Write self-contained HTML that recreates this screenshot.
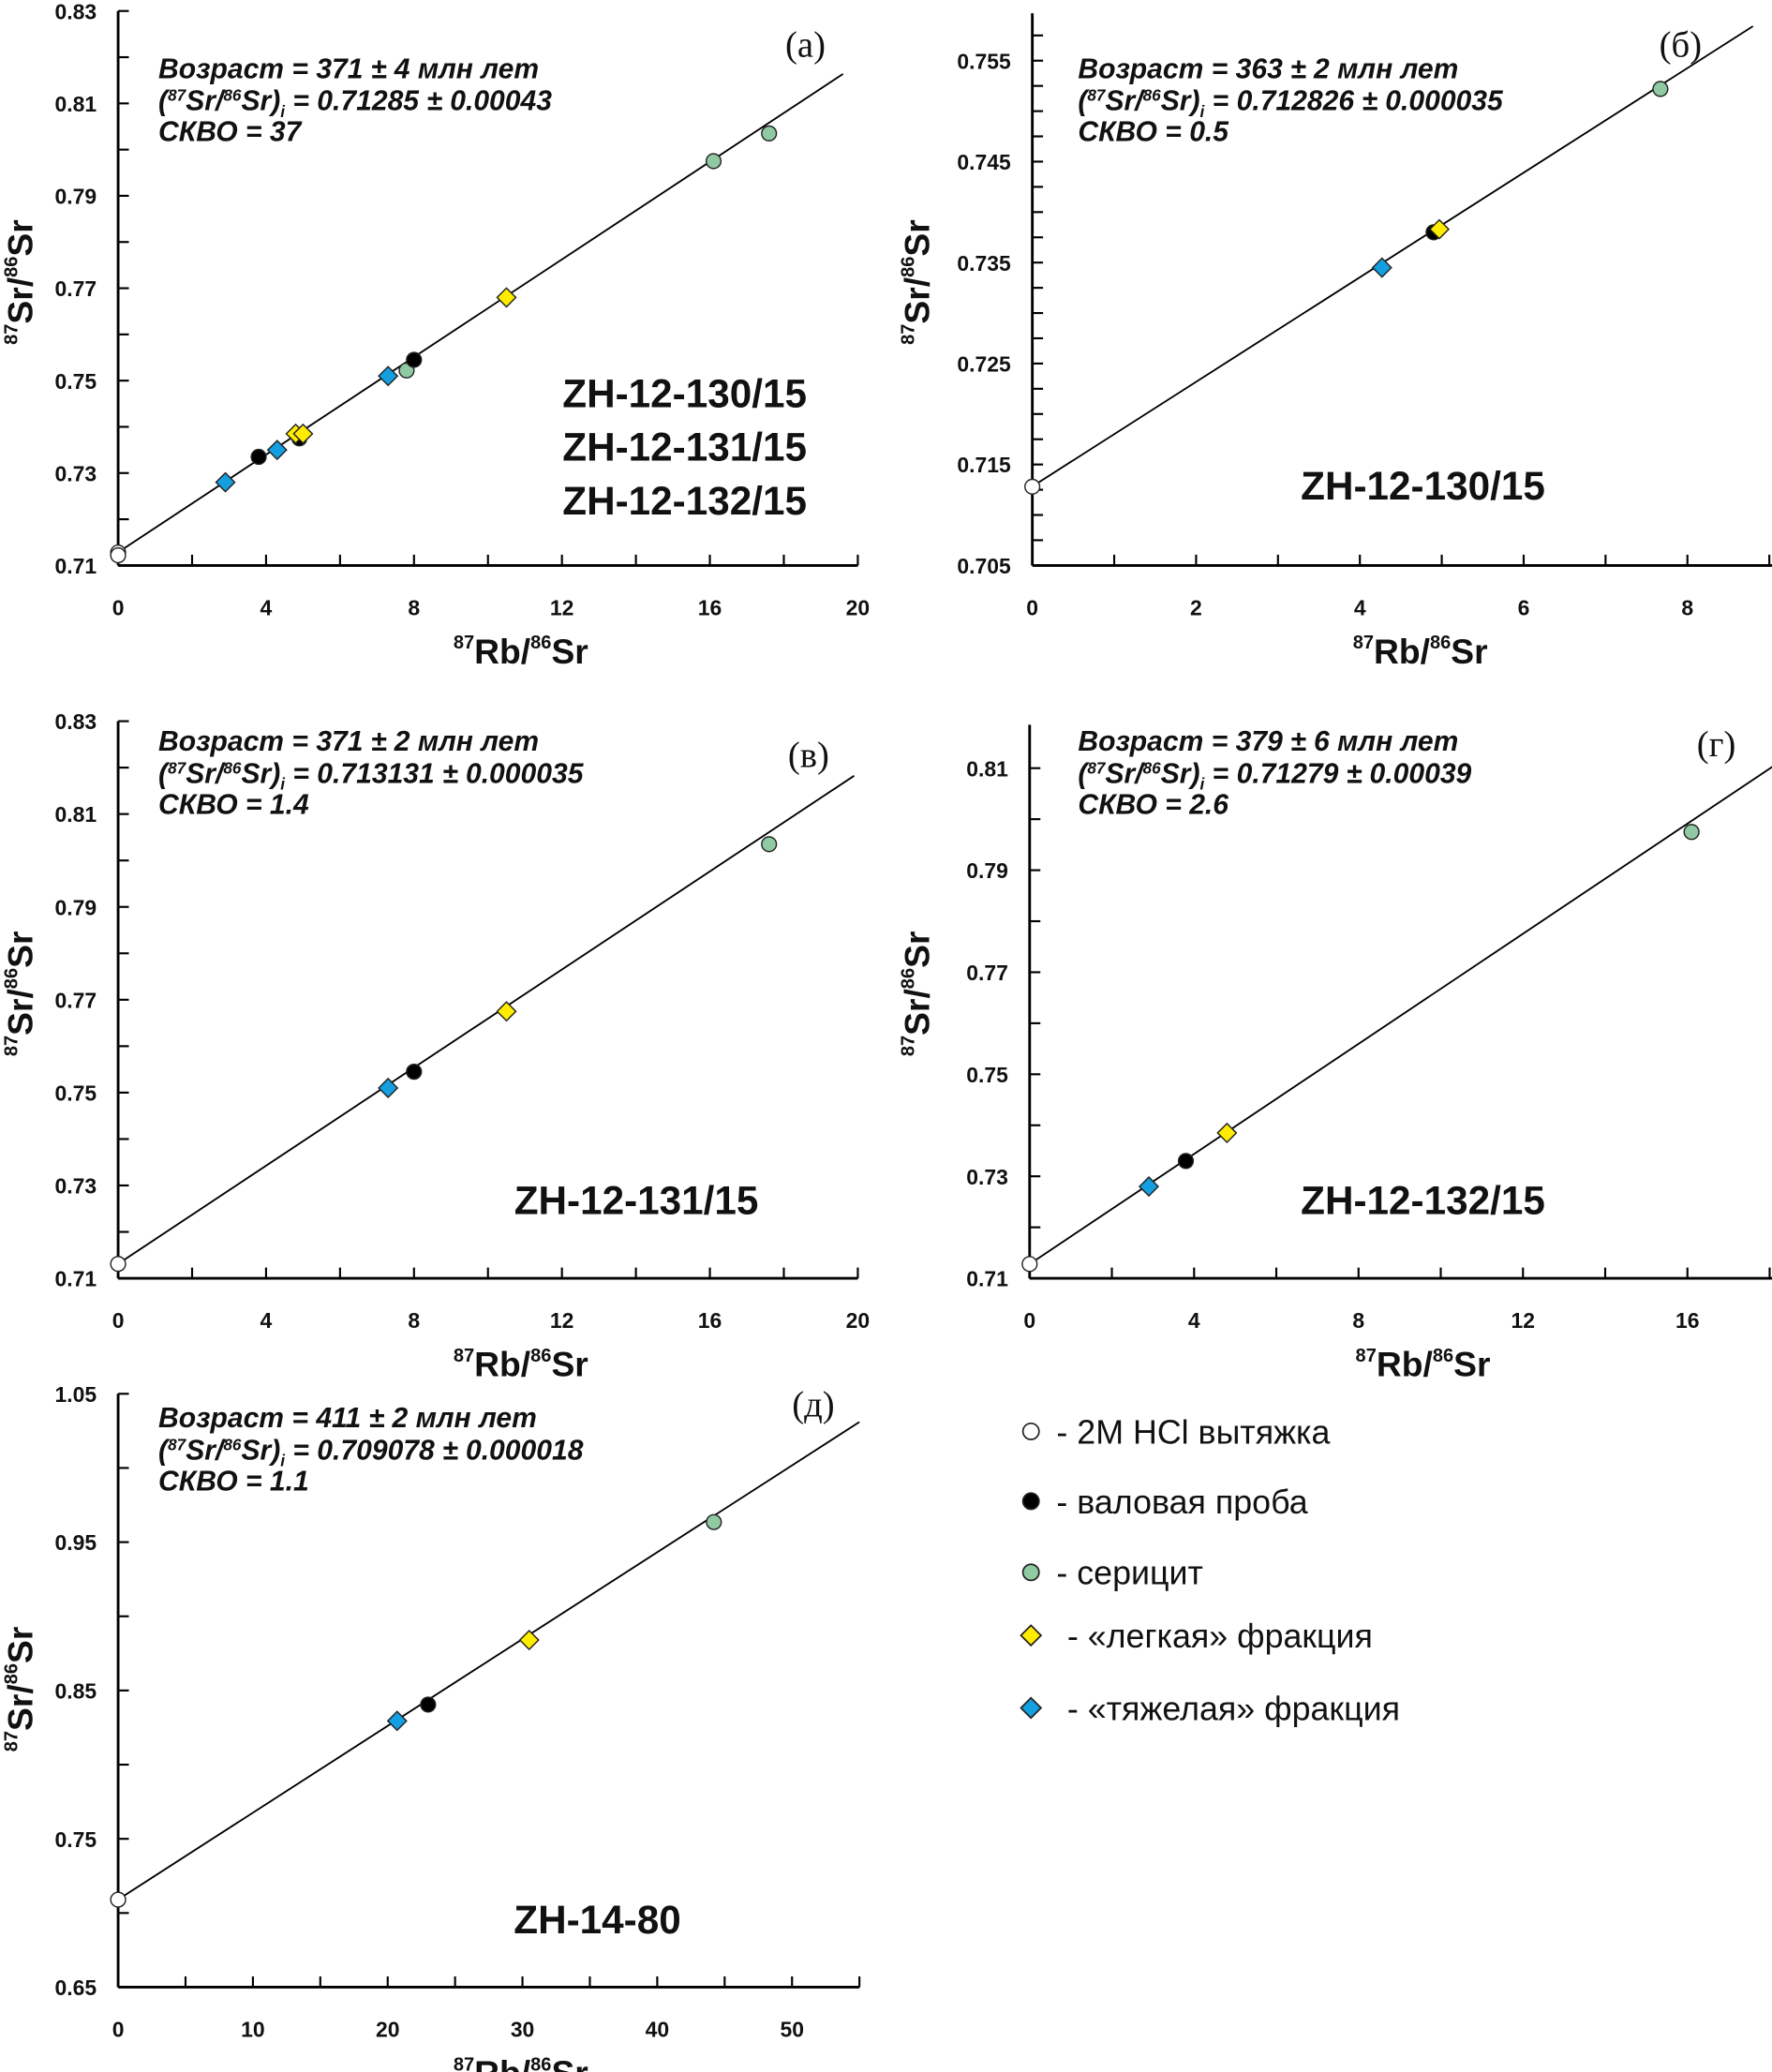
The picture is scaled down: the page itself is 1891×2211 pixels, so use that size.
<!DOCTYPE html>
<html><head><meta charset="utf-8"><style>
html,body{margin:0;padding:0;background:#fff;}
svg{display:block;}
.tk{font-family:"Liberation Sans",Arial,sans-serif;font-weight:bold;font-size:16px;fill:#111;}
.ttl{font-family:"Liberation Sans",Arial,sans-serif;font-weight:bold;font-size:26px;fill:#111;}
.info{font-family:"Liberation Sans","DejaVu Sans",sans-serif;font-weight:bold;font-style:italic;font-size:21px;fill:#111;}
.lab{font-family:"Liberation Serif",serif;font-size:27px;fill:#111;}
.smp{font-family:"Liberation Sans",Arial,sans-serif;font-weight:bold;font-size:29.5px;fill:#111;}
.leg{font-family:"Liberation Sans","DejaVu Sans",sans-serif;font-size:25px;fill:#111;}
</style></head><body>
<svg id="fig" width="1891" height="2211" viewBox="0 0 1320 1543" xmlns="http://www.w3.org/2000/svg"></svg>
<script>
// ---- data (Rb/Sr, Sr/Sr pairs per panel) ----
const aWhiteX=[0,0], aWhiteY=[0.7128,0.7122];
const aBlackX=[3.8,4.9,8.0], aBlackY=[0.7335,0.7375,0.7545];
const aGreenX=[7.8,16.1,17.6], aGreenY=[0.7522,0.7975,0.8035];
const aYellowX=[4.8,5.0,10.5], aYellowY=[0.7385,0.7385,0.768];
const aBlueX=[2.9,4.3,7.3], aBlueY=[0.728,0.735,0.751];
const aFit=[0.71285,0.005282], aFitX=[0,19.6];

const bWhiteX=[0], bWhiteY=[0.7128];
const bBlackX=[4.9], bBlackY=[0.738];
const bGreenX=[7.67], bGreenY=[0.7522];
const bYellowX=[4.97], bYellowY=[0.7383];
const bBlueX=[4.27], bBlueY=[0.7345];
const bFit=[0.712826,0.005180], bFitX=[0,8.8];

const vWhiteX=[0], vWhiteY=[0.7131];
const vBlackX=[8.0], vBlackY=[0.7545];
const vGreenX=[17.6], vGreenY=[0.8035];
const vYellowX=[10.5], vYellowY=[0.7675];
const vBlueX=[7.3], vBlueY=[0.751];
const vFit=[0.713131,0.005282], vFitX=[0,19.9];

const gWhiteX=[0], gWhiteY=[0.7128];
const gBlackX=[3.8], gBlackY=[0.733];
const gGreenX=[16.1], gGreenY=[0.7975];
const gYellowX=[4.8], gYellowY=[0.7385];
const gBlueX=[2.9], gBlueY=[0.728];
const gFit=[0.71279,0.005396], gFitX=[0,18.1];

const dWhiteX=[0], dWhiteY=[0.709];
const dBlackX=[23], dBlackY=[0.8405];
const dGreenX=[44.2], dGreenY=[0.9635];
const dYellowX=[30.5], dYellowY=[0.884];
const dBlueX=[20.7], dBlueY=[0.8295];
const dFit=[0.709078,0.005853], dFitX=[0,55];

const aYTicks=["0.71","0.73","0.75","0.77","0.79","0.81","0.83"];
const bYTicks=["0.705","0.715","0.725","0.735","0.745","0.755"];
const gYTicks=["0.71","0.73","0.75","0.77","0.79","0.81"];
const dYTicks=["0.65","0.75","0.85","0.95","1.05"];
const aXTicks=["0","4","8","12","16","20"];
const bXTicks=["0","2","4","6","8"];
const gXTicks=["0","4","8","12","16"];
const dXTicks=["0","10","20","30","40","50"];

const NS="http://www.w3.org/2000/svg";
const svg=document.getElementById('fig');
function mk(tag,attrs,parent){const e=document.createElementNS(NS,tag);for(const k in attrs)e.setAttribute(k,attrs[k]);(parent||svg).appendChild(e);return e;}
const COL={white:"#ffffff",black:"#000000",green:"#8fcaa2",yellow:"#ffec00",blue:"#149fe0"};

function panel(id,cfg){
  const g=mk('g',{});
  
  
  const sx=v=>cfg.px0+(v-cfg.x0)/(cfg.x1-cfg.x0)*(cfg.px1-cfg.px0);
  const sy=v=>cfg.py0+(v-cfg.y0)/(cfg.y1-cfg.y0)*(cfg.py1-cfg.py0);
  const ya=mk('line',{x1:cfg.px0,y1:sy(cfg.y0),x2:cfg.px0,y2:sy(cfg.yTop),stroke:'#000','stroke-width':2},g);
  
  
  const xa=mk('line',{x1:cfg.px0,y1:sy(cfg.y0),x2:sx(cfg.xEnd),y2:sy(cfg.y0),stroke:'#000','stroke-width':2},g);
  
  
  for(let v=cfg.y0;v<=cfg.yTop+1e-9;v+=cfg.yMinor){mk('line',{x1:cfg.px0,y1:sy(v),x2:cfg.px0+8,y2:sy(v),stroke:'#000','stroke-width':1.5},g);}
  for(let v=cfg.x0;v<=cfg.xEnd+1e-9;v+=cfg.xMinor){mk('line',{x1:sx(v),y1:sy(cfg.y0),x2:sx(v),y2:sy(cfg.y0)-8,stroke:'#000','stroke-width':1.5},g);}
  cfg.yTicks.forEach(s=>{const t=mk('text',{x:cfg.px0-16,y:sy(parseFloat(s))+6,'text-anchor':'end',class:'tk'},g);t.textContent=s;
    
    });
  cfg.xTicks.forEach(s=>{const t=mk('text',{x:sx(parseFloat(s)),y:sy(cfg.y0)+37,'text-anchor':'middle',class:'tk'},g);t.textContent=s;
    
    });
  const xt=mk('text',{x:cfg.xtX,y:sy(cfg.y0)+73,'text-anchor':'middle',class:'ttl'},g);
  xt.innerHTML='<tspan font-size="14" dy="-11">87</tspan><tspan dy="11">Rb/</tspan><tspan font-size="14" dy="-11">86</tspan><tspan dy="11">Sr</tspan>';
  
  
  const yt=mk('text',{x:0,y:0,'text-anchor':'middle',class:'ttl',transform:`translate(${cfg.ytX},${cfg.ytY}) rotate(-90)`},g);
  yt.innerHTML='<tspan font-size="14" dy="-11">87</tspan><tspan dy="11">Sr/</tspan><tspan font-size="14" dy="-11">86</tspan><tspan dy="11">Sr</tspan>';
  
  
  const fl=mk('line',{x1:sx(cfg.fitX[0]),y1:sy(cfg.fit[0]+cfg.fit[1]*cfg.fitX[0]),x2:sx(cfg.fitX[1]),y2:sy(cfg.fit[0]+cfg.fit[1]*cfg.fitX[1]),stroke:'#000','stroke-width':1.3},g);
  
  
  const ser=[['white',cfg.white,'c'],['green',cfg.green,'c'],['black',cfg.black,'c'],['blue',cfg.blue,'d'],['yellow',cfg.yellow,'d']];
  ser.forEach(([c,[xs,ys],shape])=>{
    xs.forEach((xv,i)=>{const X=sx(xv),Y=sy(ys[i]);let m;
      if(shape==='c') m=mk('circle',{cx:X,cy:Y,r:5.5,fill:COL[c],stroke:'#222','stroke-width':1},g);
      else m=mk('polygon',{points:`${X},${Y-7} ${X+7},${Y} ${X},${Y+7} ${X-7},${Y}`,fill:COL[c],stroke:'#222','stroke-width':1},g);
      
      
    });
  });
  const it=mk('text',{x:cfg.infoX,y:cfg.infoY,class:'info'},g);
  it.innerHTML=`<tspan x="${cfg.infoX}">Возраст = ${cfg.age} млн лет</tspan><tspan x="${cfg.infoX}" dy="24">(<tspan font-size="12" dy="-7">87</tspan><tspan dy="7">Sr/</tspan><tspan font-size="12" dy="-7">86</tspan><tspan dy="7">Sr)</tspan><tspan font-size="12" dy="5">i</tspan><tspan dy="-5"> = ${cfg.ratio}</tspan></tspan><tspan x="${cfg.infoX}" dy="23">СКВО = ${cfg.mswd}</tspan>`;
  
  
  const lb=mk('text',{x:cfg.labX,y:cfg.labY,class:'lab'},g);lb.textContent=cfg.lab;
  
  
  cfg.samples.forEach((s,i)=>{const t=mk('text',{x:cfg.smX,y:cfg.smY+i*40,'text-anchor':'middle',class:'smp'},g);t.textContent=s;
    
    });
}

panel('a',{px0:88,px1:639,x0:0,x1:20,py0:421,py1:8,y0:0.71,y1:0.83,yTop:0.83,xEnd:20,yMinor:0.01,xMinor:2,
  yTicks:aYTicks,xTicks:aXTicks,xtX:388,ytX:24,ytY:210,fit:aFit,fitX:aFitX,
  white:[aWhiteX,aWhiteY],black:[aBlackX,aBlackY],green:[aGreenX,aGreenY],yellow:[aYellowX,aYellowY],blue:[aBlueX,aBlueY],
  infoX:118,infoY:58,age:'371 ± 4',ratio:'0.71285 ± 0.00043',mswd:'37',lab:'(a)',labX:585,labY:42,
  samples:['ZH-12-130/15','ZH-12-131/15','ZH-12-132/15'],smX:510,smY:303});
panel('b',{px0:769,px1:1257,x0:0,x1:8,py0:421,py1:45,y0:0.705,y1:0.755,yTop:0.7597,xEnd:9.05,yMinor:0.0025,xMinor:1,
  yTicks:bYTicks,xTicks:bXTicks,xtX:1058,ytX:692,ytY:210,fit:bFit,fitX:bFitX,
  white:[bWhiteX,bWhiteY],black:[bBlackX,bBlackY],green:[bGreenX,bGreenY],yellow:[bYellowX,bYellowY],blue:[bBlueX,bBlueY],
  infoX:803,infoY:58,age:'363 ± 2',ratio:'0.712826 ± 0.000035',mswd:'0.5',lab:'(б)',labX:1236,labY:42,
  samples:['ZH-12-130/15'],smX:1060,smY:372});
panel('v',{px0:88,px1:639,x0:0,x1:20,py0:952,py1:537,y0:0.71,y1:0.83,yTop:0.83,xEnd:20,yMinor:0.01,xMinor:2,
  yTicks:aYTicks,xTicks:aXTicks,xtX:388,ytX:24,ytY:740,fit:vFit,fitX:vFitX,
  white:[vWhiteX,vWhiteY],black:[vBlackX,vBlackY],green:[vGreenX,vGreenY],yellow:[vYellowX,vYellowY],blue:[vBlueX,vBlueY],
  infoX:118,infoY:559,age:'371 ± 2',ratio:'0.713131 ± 0.000035',mswd:'1.4',lab:'(в)',labX:587,labY:571,
  samples:['ZH-12-131/15'],smX:474,smY:904});
panel('g',{px0:767,px1:1257,x0:0,x1:16,py0:952,py1:572,y0:0.71,y1:0.81,yTop:0.8185,xEnd:18.1,yMinor:0.01,xMinor:2,
  yTicks:gYTicks,xTicks:gXTicks,xtX:1060,ytX:692,ytY:740,fit:gFit,fitX:gFitX,
  white:[gWhiteX,gWhiteY],black:[gBlackX,gBlackY],green:[gGreenX,gGreenY],yellow:[gYellowX,gYellowY],blue:[gBlueX,gBlueY],
  infoX:803,infoY:559,age:'379 ± 6',ratio:'0.71279 ± 0.00039',mswd:'2.6',lab:'(г)',labX:1264,labY:563,
  samples:['ZH-12-132/15'],smX:1060,smY:904});
panel('d',{px0:88,px1:590,x0:0,x1:50,py0:1480,py1:1038,y0:0.65,y1:1.05,yTop:1.05,xEnd:55,yMinor:0.05,xMinor:5,
  yTicks:dYTicks,xTicks:dXTicks,xtX:388,ytX:24,ytY:1258,fit:dFit,fitX:dFitX,
  white:[dWhiteX,dWhiteY],black:[dBlackX,dBlackY],green:[dGreenX,dGreenY],yellow:[dYellowX,dYellowY],blue:[dBlueX,dBlueY],
  infoX:118,infoY:1063,age:'411 ± 2',ratio:'0.709078 ± 0.000018',mswd:'1.1',lab:'(д)',labX:590,labY:1055,
  samples:['ZH-14-80'],smX:445,smY:1440});

const legC=['white','black','green','yellow','blue'];
const legS=['c','c','c','d','d'];
const legT=['- 2M HCl вытяжка','- валовая проба','- серицит','- «легкая» фракция','- «тяжелая» фракция'];
const legY=[1066,1118,1171,1218,1272];
const legTX=[787,787,787,795,795];
const lg=mk('g',{});


legC.forEach((c,i)=>{const X=768,Y=legY[i];let m;
  if(legS[i]==='c') m=mk('circle',{cx:X,cy:Y,r:6,fill:COL[c],stroke:'#222','stroke-width':1.2},lg);
  else m=mk('polygon',{points:`${X},${Y-7.5} ${X+7.5},${Y} ${X},${Y+7.5} ${X-7.5},${Y}`,fill:COL[c],stroke:'#222','stroke-width':1.2},lg);
  
  
  const t=mk('text',{x:legTX[i],y:Y+9,class:'leg'},lg);t.textContent=legT[i];
  
  
});
</script>
</body></html>
